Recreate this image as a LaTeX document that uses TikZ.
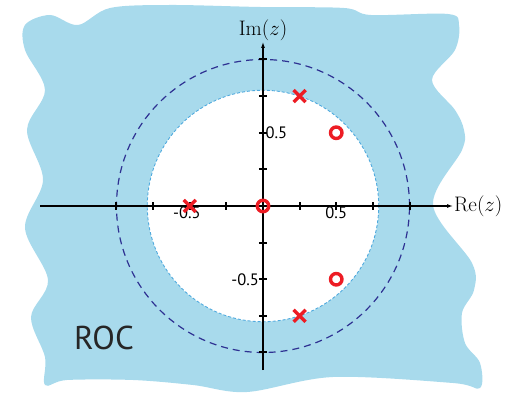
\documentclass[tikz,border=0pt]{standalone}
\usepackage{fix-cm}
\usepackage{fontspec}
\setsansfont{PT Sans}
\usepackage{tikz}
\usetikzlibrary{arrows.meta, shapes.misc}

\definecolor{rocblue}{RGB}{168,218,236}
\definecolor{unitblue}{RGB}{46,49,146}
\definecolor{edgeblue}{RGB}{80,170,222}
\definecolor{pzred}{RGB}{237,28,36}

\begin{document}
\begin{tikzpicture}[x=146.5pt, y=146.5pt,
  axis/.style={line width=1.1pt, -{Latex[length=6pt, width=4pt]}},
  tickmark/.style={line width=2pt},
  axlabel/.style={font=\fontsize{21}{21}\selectfont, inner sep=1pt},
  ticklabel/.style={font=\sffamily\fontsize{16.5}{16.5}\selectfont, inner sep=1pt},
  unitc/.style={draw=unitblue, dash pattern=on 7pt off 5pt, line width=1.2pt},
  innerc/.style={draw=edgeblue, fill=white, dash pattern=on 3pt off 2pt, line width=0.9pt},
  pole/.style={cross out, draw=pzred, line width=3.5pt, minimum size=8.5pt, inner sep=0pt},
  zero/.style={circle, draw=pzred, line width=3.4pt, minimum size=11.5pt, inner sep=0pt},
]

% --- ROC region (pixel frame) ---
\begin{scope}[x=1pt, y=-1pt, shift={(-263pt,206pt)}]
  \useasboundingbox (0,0) rectangle (522,393);
  \fill[rocblue] plot[smooth cycle, tension=0.55] coordinates {
    (25,25) (50,15) (78,25) (110,8) (170,5) (260,7) (344,8) (371,15) (448,14) (459,25)
    (455,50) (432,80) (455,110) (464,130) (462,150) (433,205) (472,263) (474,290)
    (462,313) (465,343) (480,363) (480,388) (453,383) (333,377) (247,392) (193,385)
    (133,380) (67,380) (45,385) (45,357) (31,317) (48,280) (25,228) (43,180) (27,130)
    (45,90) (25,50)};
\end{scope}

% --- circles ---
\draw[unitc] (0,0) circle (1);
\draw[innerc] (0,0) circle (0.79);

% --- axes ---
\draw[axis] (-1.522,0) -- (1.297,0);
\draw[axis] (0,-1.12) -- (0,1.12);
\foreach \t in {-1,-0.75,-0.5,-0.25,0.25,0.5,0.75,1} {
  \draw[tickmark] (\t,0) ++(0,-4pt) -- ++(0,8pt);
  \draw[tickmark] (0,\t) ++(-4pt,0) -- ++(8pt,0);
}

\node[axlabel, anchor=south] (imlab) at (0,1.12) {$\mathrm{Im}(z)$};
\node[axlabel, anchor=west] (relab) at (1.297,0) {$\mathrm{Re}(z)$};

\node[ticklabel, anchor=north] (xm) at (-0.52,0) {-0.5};
\node[ticklabel, anchor=north] (xp) at (0.5,0) {0.5};
\node[ticklabel, anchor=west] (yp) at (0.01,0.5) {0.5};
\node[ticklabel, anchor=east] (ym) at (-0.02,-0.5) {-0.5};

% --- poles and zeros ---
\node[pole] (p1) at (-0.5,0) {};
\node[pole] (p2) at (0.25,0.75) {};
\node[pole] (p3) at (0.25,-0.75) {};
\node[zero] (z1) at (0,0) {};
\node[zero] (z2) at (0.5,0.5) {};
\node[zero] (z3) at (0.5,-0.5) {};

\node[font=\sffamily\fontsize{33}{33}\selectfont, text=black!85] (roc) at (-1.085,-0.9) {ROC};

\end{tikzpicture}
\end{document}
